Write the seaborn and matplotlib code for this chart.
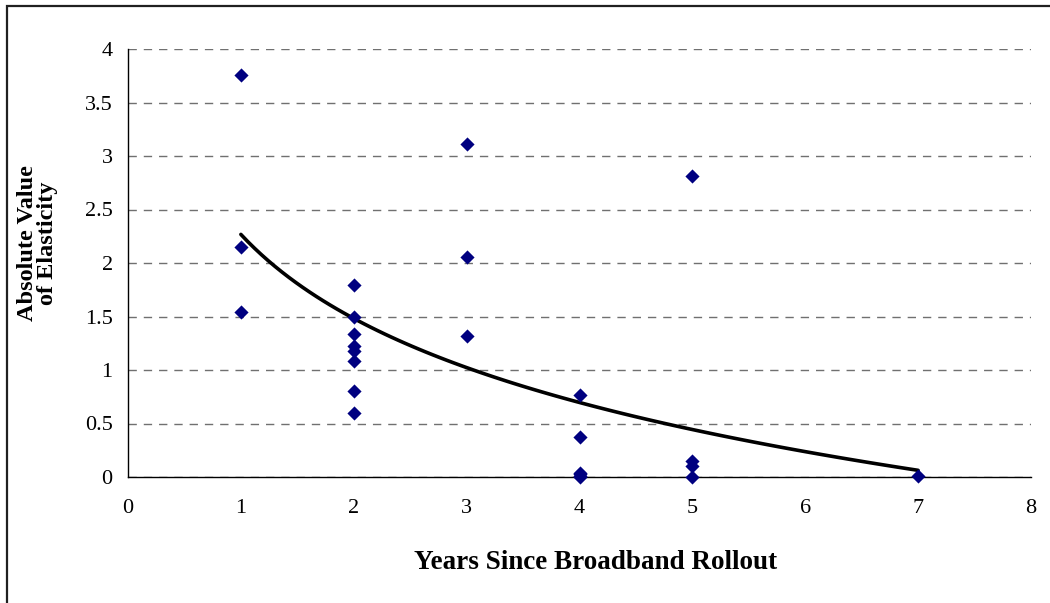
import numpy as np
import pandas as pd
import matplotlib
matplotlib.use('Agg')
import matplotlib.pyplot as plt
import matplotlib.patches as patches
from matplotlib.ticker import FuncFormatter
import seaborn as sns

# years since rollout and |elasticity|
# (several points near zero sit on top of each other)
years = [1, 1, 1,
         2, 2, 2, 2, 2, 2, 2, 2,
         3, 3, 3,
         4, 4, 4, 4, 4, 4,
         5, 5, 5, 5,
         7]
elasticity = [3.76, 2.15, 1.54,
              1.79, 1.50, 1.34, 1.22, 1.18, 1.08, 0.80, 0.60,
              3.11, 2.06, 1.32,
              0.77, 0.37, 0.04, 0.03, 0.01, 0.0,
              2.81, 0.15, 0.10, 0.0,
              0.01]
x_ticks = [0, 1, 2, 3, 4, 5, 6, 7, 8]
y_ticks = [0, 0.5, 1, 1.5, 2, 2.5, 3, 3.5, 4]

df = pd.DataFrame({'years': years, 'elasticity': elasticity})

sns.set_style('white')
plt.rcParams['font.family'] = ['Liberation Serif', 'DejaVu Serif']
plt.rcParams['text.color'] = 'black'
plt.rcParams['axes.labelcolor'] = 'black'
plt.rcParams['xtick.color'] = 'black'
plt.rcParams['ytick.color'] = 'black'

fig = plt.figure(figsize=(10.5, 6.03), dpi=100)
ax = fig.add_axes([128 / 1050, 1 - 477 / 603, (1031 - 128) / 1050, (477 - 49) / 603])

# logarithmic trend line, like the spreadsheet one
sns.regplot(data=df, x='years', y='elasticity', logx=True, ci=None, truncate=True,
            scatter=False, color='black', line_kws={'linewidth': 2.6, 'zorder': 3}, ax=ax)
sns.scatterplot(data=df, x='years', y='elasticity', marker='D', s=52, color='#000080',
                linewidth=0, zorder=4, ax=ax, clip_on=False)

ax.set_xlim(0, 8)
ax.set_ylim(0, 4)
ax.set_xticks(x_ticks)
ax.set_yticks(y_ticks)
ax.yaxis.set_major_formatter(FuncFormatter(lambda v, p: '%g' % v))
ax.tick_params(axis='y', direction='inout', length=10, width=1, labelsize=16, pad=6)
ax.tick_params(axis='x', direction='out', length=6, width=1, labelsize=16, pad=10)
ax.yaxis.grid(True, color='#707070', linestyle=(0, (6, 5)), linewidth=1)
ax.set_axisbelow(True)
for s in ['top', 'right']:
    ax.spines[s].set_visible(False)
for s in ['left', 'bottom']:
    ax.spines[s].set_color('black')
    ax.spines[s].set_linewidth(1)

ax.set_xlabel('Years Since Broadband Rollout', fontsize=19.5, fontweight='bold')
ax.set_ylabel('Absolute Value\nof Elasticity', fontsize=17.5, fontweight='bold', linespacing=0.95)
ax.xaxis.set_label_coords((596 - 128) / 903, (477 - 550) / 428)
ax.yaxis.set_label_coords((58 - 128) / 903, (477 - 243) / 428)

# outer frame of the chart area
fig.add_artist(patches.Rectangle((7 / 1050, -0.5), 2, 0.5 + 1 - 6 / 603, fill=False,
                                 edgecolor='#202020', linewidth=1.6, transform=fig.transFigure))

fig.savefig('out.png', dpi=100)
